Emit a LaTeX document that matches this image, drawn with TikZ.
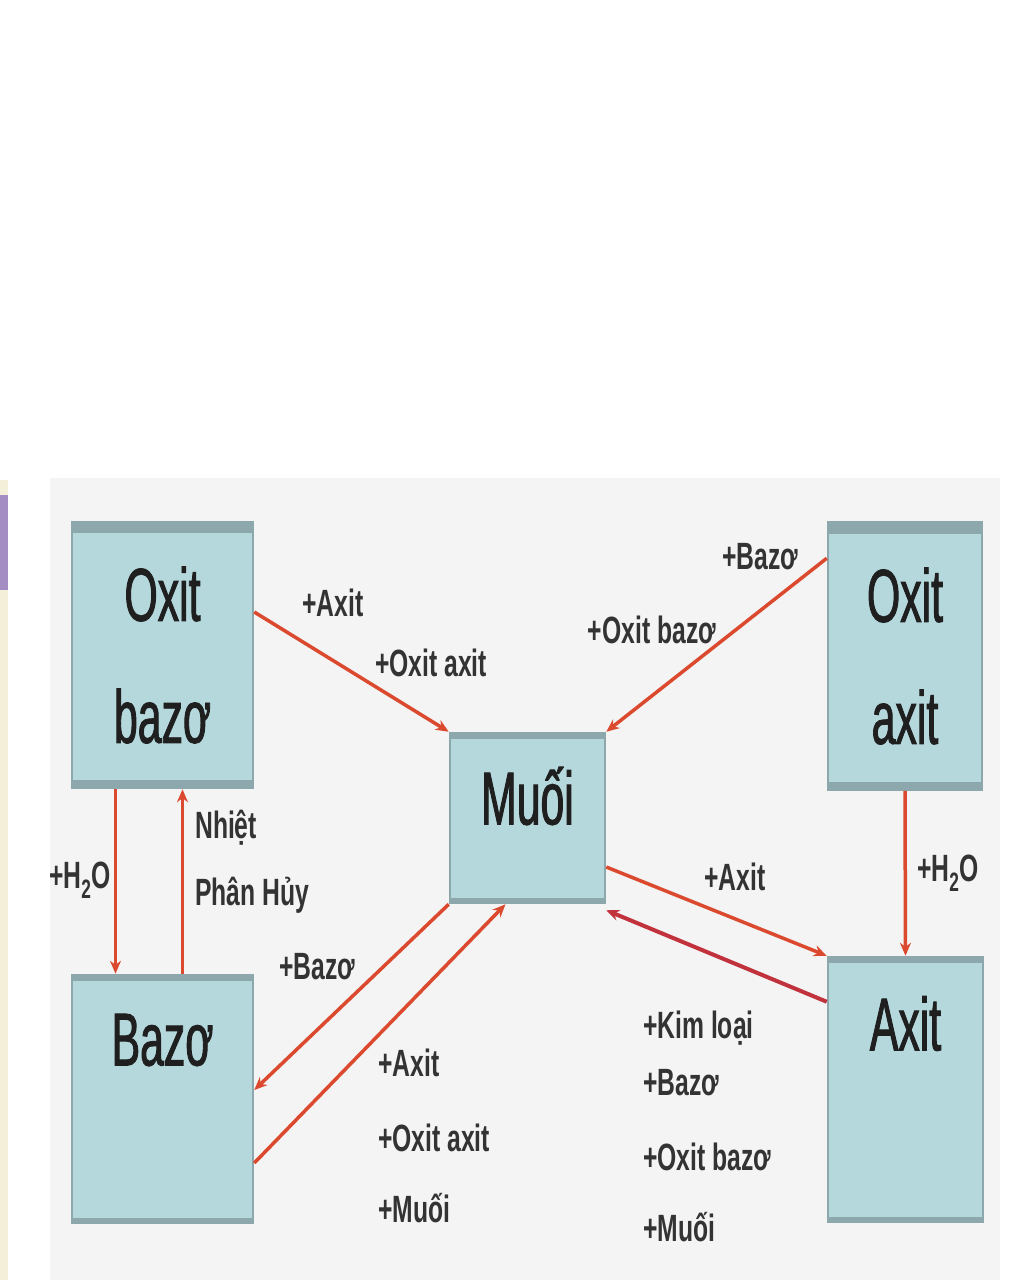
\documentclass[tikz,border=0pt]{standalone}
\usepackage{fontspec}
\setmainfont{Liberation Sans}
\newfontfamily\boxfont[FakeStretch=0.57, FakeBold=1.2]{Liberation Sans}
\newfontfamily\lblfont[FakeStretch=0.65]{Liberation Sans}
\usetikzlibrary{arrows.meta, positioning, backgrounds}
\definecolor{BoxBlue}{HTML}{B5D8DD}
\definecolor{BoxEdge}{HTML}{8DA8AC}
\definecolor{ArrowRed}{HTML}{DB4A2E}
\definecolor{ArrowDark}{HTML}{C2323C}
\definecolor{PanelGray}{HTML}{F4F4F4}
\definecolor{StripPurple}{HTML}{A38DC2}
\definecolor{StripCream}{HTML}{F3EFD9}

\begin{document}
\begin{tikzpicture}[x=1pt, y=-1pt,
        % Ô chất (dải mỏng trên và dưới)
        chatbox/.style={
                rectangle,
                draw=BoxEdge,
                line width=2.5pt,
                fill=BoxBlue,
                inner sep=0pt,
                path picture={
                        \fill[BoxEdge] (path picture bounding box.north west) rectangle ([yshift=-6pt]path picture bounding box.north east);
                        \fill[BoxEdge] (path picture bounding box.south west) rectangle ([yshift=5pt]path picture bounding box.south east);
                    }
            },
        % Ô oxit (dải đậm trên và dưới)
        oxitbox/.style={
                chatbox,
                path picture={
                        \fill[BoxEdge] (path picture bounding box.north west) rectangle ([yshift=-11pt]path picture bounding box.north east);
                        \fill[BoxEdge] (path picture bounding box.south west) rectangle ([yshift=8pt]path picture bounding box.south east);
                    }
            },
        % Chữ trong ô
        boxtext/.style={
                font=\boxfont\fontsize{75}{122}\selectfont,
                text=black!88,
                align=center
            },
        % Nhãn phản ứng
        lbl/.style={
                font=\lblfont\bfseries\fontsize{38}{72}\selectfont,
                text=black!80,
                align=left,
                inner sep=0pt
            },
        % Mũi tên phản ứng
        phanung/.style={
                draw=ArrowRed,
                line width=3.5pt,
                -{Stealth[length=13pt, width=11pt]}
            }
    ]

    \useasboundingbox (0,0) rectangle (1024,1280);

    % NỀN
    \fill[PanelGray] (50,478) rectangle (1000,1280);
    \fill[StripCream] (0,480) rectangle (8,1280);
    \fill[StripPurple] (0,495) rectangle (8,590);

    % CÁC CHẤT
    \node[oxitbox, minimum width=181pt, minimum height=266pt,
        label={[boxtext]center:{Oxit\\bazơ}}] (oxbazo) at (162.5,655) {};
    \node[oxitbox, minimum width=154pt, minimum height=267pt,
        label={[boxtext]center:{Oxit\\axit}}] (oxaxit) at (905,656) {};
    \node[chatbox, minimum width=155pt, minimum height=170pt,
        label={[boxtext, yshift=22pt]center:Muối}] (muoi) at (527.5,818) {};
    \node[chatbox, minimum width=181pt, minimum height=248pt,
        label={[boxtext, yshift=59pt]center:Bazơ}] (bazo) at (162.5,1099) {};
    \node[chatbox, minimum width=155pt, minimum height=265pt,
        label={[boxtext, yshift=66pt]center:Axit}] (axit) at (905.5,1089.5) {};

    % MŨI TÊN
    \draw[phanung] ([yshift=43pt]oxbazo.east) -- (muoi.north west);
    \draw[phanung] ([yshift=-37pt]oxaxit.north west) -- (muoi.north east);
    \draw[phanung] ([xshift=-47pt]oxbazo.south) -- ([xshift=-47pt]bazo.north);
    \draw[phanung] ([xshift=20pt]bazo.north) -- ([xshift=20pt]oxbazo.south);
    \draw[phanung] (muoi.south west) -- ([yshift=9pt]bazo.east);
    \draw[phanung] ([yshift=-64pt]bazo.east) -- ([xshift=-22pt]muoi.south);
    \draw[phanung] ([yshift=-49pt]muoi.east) -- (axit.north west);
    \draw[phanung, draw=ArrowDark, line width=4pt] ([yshift=-46pt]axit.north west) -- ([yshift=-6pt]muoi.south east);
    \draw[phanung] (oxaxit.south) -- (axit.north);

    % NHÃN
    \node[lbl] (lAxitA) at (333,603) {+Axit};
    \node[lbl] (lOxitaxitA) at (431,663) {+Oxit axit};
    \node[lbl] (lBazoA) at (760,557) {+Bazơ};
    \node[lbl] (lOxitbazoA) at (652,630) {+Oxit bazơ};
    \node[lbl] (lNuocA) at (80,880) {+H\textsubscript{2}O};
    \node[lbl, anchor=west] (lNhiet) at (195,862) {Nhiệt\\[-5pt]Phân Hủy};
    \node[lbl] (lBazoB) at (317,967) {+Bazơ};
    \node[lbl, anchor=north west] (lBazoSP) at (378,1049) {+Axit\\[3pt]+Oxit axit\\[-1pt]+Muối};
    \node[lbl] (lAxitB) at (735,877) {+Axit};
    \node[lbl] (lNuocB) at (948,873) {+H\textsubscript{2}O};
    \node[lbl, anchor=north west] (lAxitSP) at (643,1011) {+Kim loại\\[-15pt]+Bazơ\\[3pt]+Oxit bazơ\\[-1pt]+Muối};

\end{tikzpicture}
\end{document}
